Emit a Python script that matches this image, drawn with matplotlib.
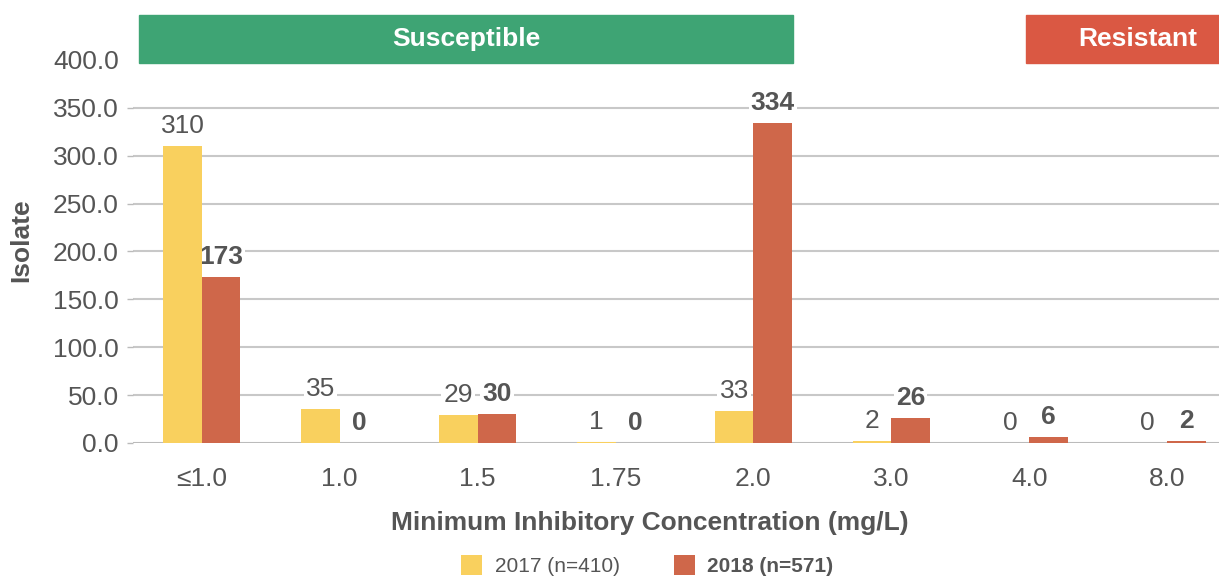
import matplotlib.pyplot as plt
import matplotlib.transforms as mtransforms
from matplotlib.patches import Rectangle
import numpy as np

plt.rcParams['font.family'] = ['Liberation Sans', 'DejaVu Sans']

# MIC categories and isolate counts per year
categories = ['≤1.0', '1.0', '1.5', '1.75', '2.0', '3.0', '4.0', '8.0']
counts_2017 = [310, 35, 29, 1, 33, 2, 0, 0]
counts_2018 = [173, 0, 30, 0, 334, 26, 6, 2]
yticks = [0, 50, 100, 150, 200, 250, 300, 350, 400]
series_names = ['2017 (n=410)', '2018 (n=571)']

yellow = '#F9D05E'
red = '#CF674A'
green_band = '#3EA474'
red_band = '#DA5843'
grey = '#555555'

fig = plt.figure(figsize=(12.19, 5.78), dpi=100)
ax = fig.add_axes([0.109, 0.2336, 0.905, 0.6626])

x = np.arange(len(categories))
w = 0.28
b1 = ax.bar(x - w / 2, counts_2017, w, color=yellow, label=series_names[0], zorder=3)
b2 = ax.bar(x + w / 2, counts_2018, w, color=red, label=series_names[1], zorder=3)

# value labels sit on a white box so gridlines stop around them
box = dict(facecolor='white', edgecolor='none', pad=1.5)
for rect, v in zip(b1, counts_2017):
    ax.annotate(str(v), (rect.get_x() + rect.get_width() / 2, v),
                xytext=(0, 6), textcoords='offset points', ha='center',
                va='bottom', fontsize=19, color=grey, bbox=box, zorder=2)
for rect, v in zip(b2, counts_2018):
    ax.annotate(str(v), (rect.get_x() + rect.get_width() / 2, v),
                xytext=(0, 6), textcoords='offset points', ha='center',
                va='bottom', fontsize=19, color=grey, fontweight='bold',
                bbox=box, zorder=2)

ax.set_xlim(-0.5, len(categories) - 0.5)
ax.set_ylim(0, 400)
ax.set_yticks(yticks)
ax.set_yticklabels(['%.1f' % t for t in yticks])
ax.set_xticks(x)
ax.set_xticklabels(categories)
ax.tick_params(axis='y', colors='#BBBBBB', labelcolor=grey, labelsize=19,
               length=4, width=1, pad=6)
ax.yaxis.get_major_ticks()[-1].tick1line.set_visible(False)
ax.tick_params(axis='x', length=0, labelcolor=grey, labelsize=19, pad=17)
for s in ax.spines.values():
    s.set_visible(False)
for t in yticks[:-1]:
    ax.axhline(t, color='#C8C8C8' if t else '#BBBBBB', lw=1.5, zorder=1)

ax.set_xlabel('Minimum Inhibitory Concentration (mg/L)', fontsize=19,
              fontweight='bold', color=grey)
ax.xaxis.set_label_coords(0.469, -0.178)
ax.set_ylabel('Isolate', fontsize=19, fontweight='bold', color=grey)
ax.yaxis.set_label_coords(-0.09, 0.53)

# susceptible / resistant bands above the plot
trans = mtransforms.blended_transform_factory(ax.transData, ax.transAxes)
bands = [(-0.456, 4.286, green_band, 'Susceptible', 0.0),
         (5.975, 7.8, red_band, 'Resistant', 6.79)]
for x0, x1, col, txt, xt in bands:
    ax.add_patch(Rectangle((x0, 0.992), x1 - x0, 0.126, transform=trans,
                           color=col, clip_on=False, zorder=5))
    ax.text(xt if xt else (x0 + x1) / 2, 1.055, txt, transform=trans,
            ha='center', va='center', color='white', fontsize=19,
            fontweight='bold', zorder=6)

leg = fig.legend(handles=[b1, b2], loc='center', bbox_to_anchor=(0.531, 0.022),
                 ncol=2, frameon=False, fontsize=15, handlelength=1.0,
                 handleheight=1.1, columnspacing=2.6, handletextpad=0.6)
for t in leg.get_texts():
    t.set_color(grey)
leg.get_texts()[1].set_fontweight('bold')

fig.savefig('out.png', dpi=100)
